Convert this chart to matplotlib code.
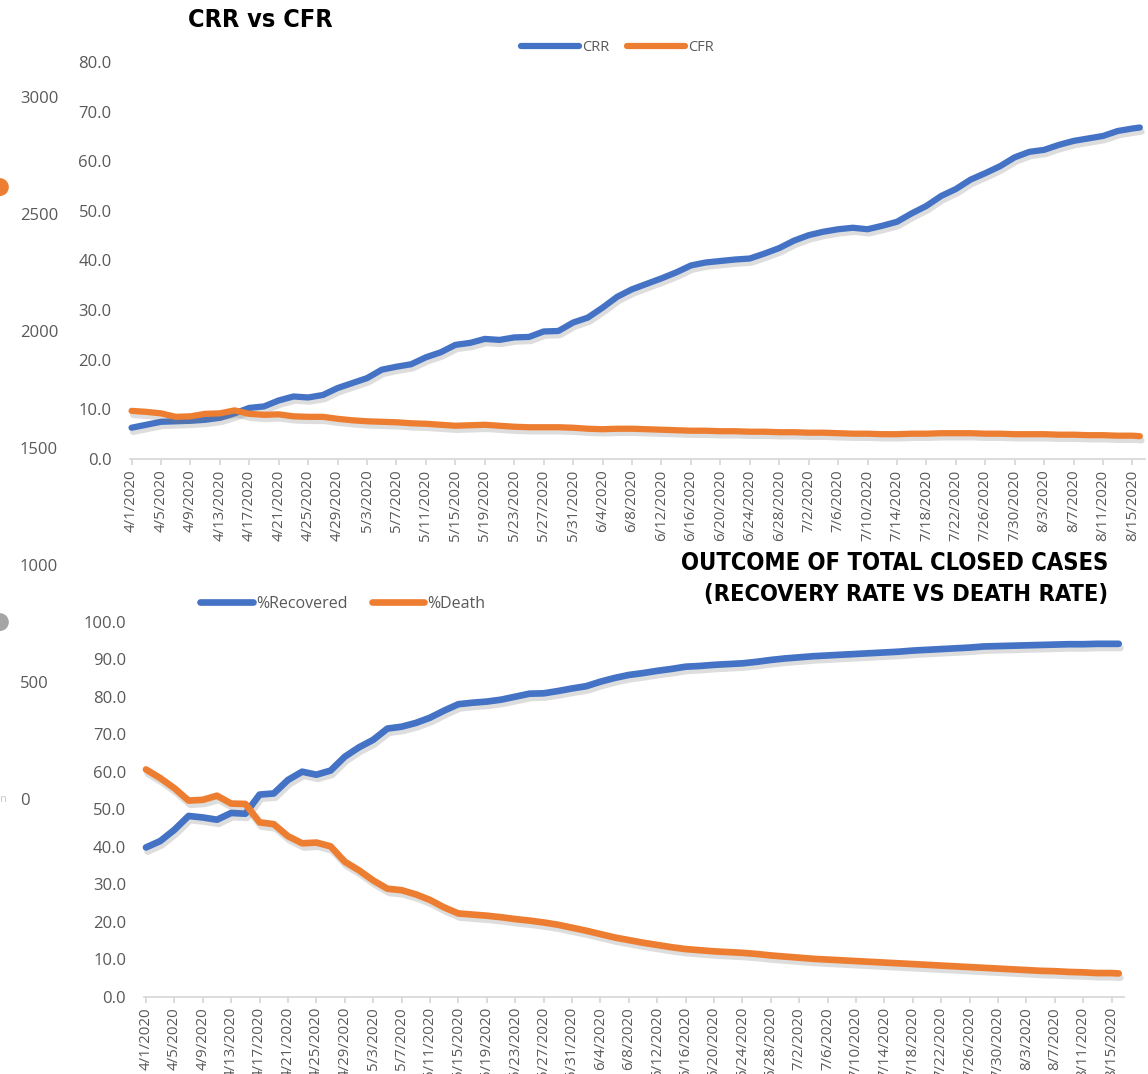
import numpy as np
import pandas as pd
import matplotlib
matplotlib.use("Agg")
import matplotlib.pyplot as plt
import matplotlib.patheffects as pe
from matplotlib import font_manager as fm

plt.rcParams['font.family'] = ['Open Sans', 'DejaVu Sans']

# ---- data (every 2nd day from 4/1/2020, plus 8/16) ----
days = list(range(0, 137, 2)) + [137]

crr = [6.3, 6.9, 7.5, 7.6, 7.7, 7.9, 8.3, 9.2, 10.3, 10.6,
       11.8, 12.6, 12.4, 12.9, 14.3, 15.3, 16.3, 18.0, 18.6, 19.1,
       20.5, 21.5, 23.0, 23.4, 24.2, 24.0, 24.5, 24.6, 25.7, 25.8,
       27.5, 28.5, 30.5, 32.7, 34.2, 35.3, 36.4, 37.6, 39.0, 39.6,
       39.9, 40.2, 40.4, 41.4, 42.5, 44.0, 45.1, 45.8, 46.3, 46.6,
       46.3, 47.0, 47.8, 49.5, 51.0, 53.0, 54.4, 56.3, 57.6, 59.0,
       60.8, 61.9, 62.3, 63.3, 64.1, 64.6, 65.1, 66.1, 66.6, 66.8]

cfr = [9.7, 9.5, 9.2, 8.5, 8.6, 9.1, 9.2, 9.8, 9.1, 8.9,
       9.0, 8.6, 8.5, 8.5, 8.1, 7.8, 7.6, 7.5, 7.4, 7.2,
       7.1, 6.9, 6.7, 6.8, 6.9, 6.7, 6.5, 6.4, 6.4, 6.4,
       6.3, 6.1, 6.0, 6.1, 6.1, 6.0, 5.9, 5.8, 5.7, 5.7,
       5.6, 5.6, 5.5, 5.5, 5.4, 5.4, 5.3, 5.3, 5.2, 5.1,
       5.1, 5.0, 5.0, 5.1, 5.1, 5.2, 5.2, 5.2, 5.1, 5.1,
       5.0, 5.0, 5.0, 4.9, 4.9, 4.8, 4.8, 4.7, 4.7, 4.6]

recovered = [39.8, 41.5, 44.5, 48.2, 47.8, 47.2, 49.0, 48.8, 53.9, 54.2,
             57.8, 60.0, 59.2, 60.3, 64.0, 66.5, 68.5, 71.5, 72.0, 73.0,
             74.4, 76.3, 78.0, 78.4, 78.7, 79.2, 80.0, 80.8, 80.9, 81.5,
             82.2, 82.8, 84.0, 85.0, 85.8, 86.3, 86.9, 87.4, 88.0, 88.2,
             88.5, 88.7, 88.9, 89.3, 89.8, 90.2, 90.5, 90.8, 91.0, 91.2,
             91.4, 91.6, 91.8, 92.0, 92.3, 92.5, 92.7, 92.9, 93.1, 93.4,
             93.5, 93.6, 93.7, 93.8, 93.9, 94.0, 94.0, 94.1, 94.1, 94.1]

death = [60.6, 58.3, 55.6, 52.3, 52.5, 53.6, 51.5, 51.4, 46.5, 46.0,
         42.8, 40.9, 41.1, 40.1, 36.0, 33.7, 31.0, 28.8, 28.4, 27.3,
         25.8, 23.8, 22.2, 21.9, 21.6, 21.2, 20.7, 20.3, 19.8, 19.2,
         18.4, 17.6, 16.7, 15.8, 15.1, 14.4, 13.8, 13.2, 12.7, 12.4,
         12.1, 11.9, 11.7, 11.4, 11.0, 10.7, 10.4, 10.1, 9.9, 9.7,
         9.5, 9.3, 9.1, 8.9, 8.7, 8.5, 8.3, 8.1, 7.9, 7.7,
         7.5, 7.3, 7.1, 6.9, 6.8, 6.6, 6.5, 6.3, 6.3, 6.2]

# tick labels every 4 days, 4/1 .. 8/15
tick_dates = pd.date_range("2020-04-01", "2020-08-15", freq="4D")
tick_days = list(range(0, 137, 4))
tick_labels = [f"{d.month}/{d.day}/{d.year}" for d in tick_dates]

# leftover of the chart lying underneath (right-hand axis + two markers)
bg_ticks = [0, 500, 1000, 1500, 2000, 2500, 3000]
bg_points = [2615, 756]
bg_colors = ['#ED7D31', '#A5A5A5']

BLUE = '#4472C4'
ORANGE = '#ED7D31'
GREY = '#595959'
W, H = 1148, 1074


def px_rect(left, top, right, bottom):
    return [left / W, 1 - bottom / H, (right - left) / W, (bottom - top) / H]


def narrow_bold():
    # a condensed bold face for the titles, if one is installed
    best = None
    for f in fm.fontManager.ttflist:
        tag = (f.name + ' ' + f.fname).lower()
        if 'narrow' in tag or 'condensed' in tag:
            w = f.weight if isinstance(f.weight, int) else {'bold': 700}.get(f.weight, 400)
            if 'bold' in tag:
                w = max(w, 700)
            if 'italic' in tag or 'oblique' in tag:
                continue
            score = -abs(w - 700)
            if best is None or score > best[0]:
                best = (score, f.fname)
    if best is not None:
        return fm.FontProperties(fname=best[1])
    return fm.FontProperties(family=['Roboto', 'DejaVu Sans'], weight='bold')


title_font = narrow_bold()

fig = plt.figure(figsize=(W / 100, H / 100), dpi=100)

# background chart fragment
bg = fig.add_axes(px_rect(-100, 97, 8, 799))
bg.set_xlim(0, 1)
bg.set_ylim(0, 3000)
bg.set_yticks(bg_ticks)
bg.yaxis.tick_right()
bg.tick_params(axis='y', length=0, pad=8.5, labelcolor=GREY, labelsize=12)
bg.set_xticks([])
for s in bg.spines.values():
    s.set_visible(False)
bg.patch.set_alpha(0)
bg.scatter([0.925] * len(bg_points), bg_points, s=140, c=bg_colors, clip_on=False, zorder=3)
fig.text(0.0, 1 - 800 / H, 'n', color='#c8c8c8', fontsize=8, va='center', ha='left')

shadow = [pe.SimpleLineShadow(offset=(1.2, -3), shadow_color='#7a7a7a', alpha=0.25), pe.Normal()]


def style(ax, ymax, step):
    ax.set_xlim(-0.25, 137.7)
    ax.set_ylim(0, ymax)
    yt = np.arange(0, ymax + 0.1, step)
    ax.set_yticks(yt)
    ax.set_yticklabels([f"{v:.1f}" for v in yt])
    for s in ['top', 'right', 'left']:
        ax.spines[s].set_visible(False)
    ax.spines['bottom'].set_color('#d9d9d9')
    ax.spines['bottom'].set_linewidth(1.3)
    ax.tick_params(axis='y', length=0, pad=13, labelcolor=GREY, labelsize=12)
    ax.set_xticks(tick_days)
    ax.set_xticklabels(tick_labels, rotation=90, va='top', ha='center')
    ax.tick_params(axis='x', length=4, width=1.3, color='#d9d9d9', pad=3.5,
                   labelcolor=GREY, labelsize=10.8)
    ax.patch.set_alpha(0)


def clean_legend(leg):
    for ln in leg.get_lines():
        ln.set_path_effects([])


# top chart: CRR vs CFR
ax1 = fig.add_axes(px_rect(129.7, 62, 1145, 459))
style(ax1, 80, 10)
ax1.plot(days, crr, color=BLUE, lw=4.5, solid_capstyle='round', solid_joinstyle='round',
         path_effects=shadow, clip_on=False, label='CRR')
ax1.plot(days, cfr, color=ORANGE, lw=4.5, solid_capstyle='round', solid_joinstyle='round',
         path_effects=shadow, clip_on=False, label='CFR')
leg1 = ax1.legend(loc='center', bbox_to_anchor=(617 / W, 1 - 48 / H), bbox_transform=fig.transFigure,
                  ncol=2, frameon=False, fontsize=10.5, handlelength=4.0, handletextpad=0.2,
                  columnspacing=1.2, labelcolor=GREY)
clean_legend(leg1)

# bottom chart: recovered vs death
ax2 = fig.add_axes(px_rect(144.2, 621.7, 1123.7, 996.7))
style(ax2, 100, 10)
ax2.plot(days, recovered, color=BLUE, lw=4.8, solid_capstyle='round', solid_joinstyle='round',
         path_effects=shadow, clip_on=False, label='%Recovered')
ax2.plot(days, death, color=ORANGE, lw=4.8, solid_capstyle='round', solid_joinstyle='round',
         path_effects=shadow, clip_on=False, label='%Death')
leg2 = ax2.legend(loc='center', bbox_to_anchor=(343 / W, 1 - 604 / H), bbox_transform=fig.transFigure,
                  ncol=2, frameon=False, fontsize=11.5, handlelength=3.3, handletextpad=0.2,
                  columnspacing=1.5, labelcolor=GREY)
clean_legend(leg2)

# titles, shrunk if the installed face runs wider than the original
titles = [
    ('CRR vs CFR', 188, 20, 'left', 145),
    ('OUTCOME OF TOTAL CLOSED CASES', 1108, 563, 'right', 429),
    ('(RECOVERY RATE VS DEATH RATE)', 1108, 595, 'right', 404),
]
renderer = fig.canvas.get_renderer()
for txt, x, y, ha, target in titles:
    t = fig.text(x / W, 1 - y / H, txt, ha=ha, va='center', fontproperties=title_font,
                 fontsize=20.5, fontweight='bold')
    width = t.get_window_extent(renderer).width
    if width > target:
        t.set_fontsize(20.5 * target / width)

fig.savefig('out.png', dpi=100)
